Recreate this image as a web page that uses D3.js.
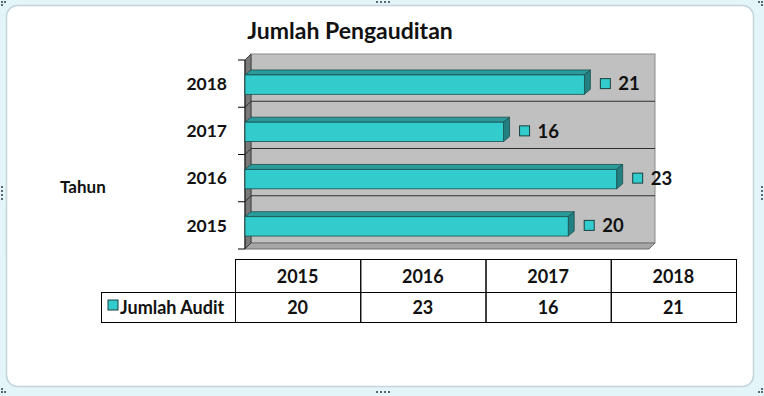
<!DOCTYPE html>
<html>
<head>
<meta charset="utf-8">
<script src="https://cdn.jsdelivr.net/npm/d3@7/dist/d3.min.js"></script>
<style>
  body { margin: 0; background: #fff; }
  svg text { font-family: Lato, "Open Sans", sans-serif; font-weight: bold; fill: #111; }
</style>
</head>
<body>
<div id="chart-area"></div>
<script>
// data
var years = ["2015", "2016", "2017", "2018"];
var audits = [20, 23, 16, 21];
var seriesName = "Jumlah Audit";
var titleText = "Jumlah Pengauditan";
var axisTitle = "Tahun";

var W = 764, H = 396;
var depth = 6;

var svg = d3.select("#chart-area").append("svg")
    .attr("width", W)
    .attr("height", H);

// frame like the office chart object
svg.append("rect").attr("width", W).attr("height", H).attr("fill", "#e4f5f9");
svg.append("rect")
    .attr("x", 6.5).attr("y", 5.5)
    .attr("width", 747).attr("height", 381)
    .attr("rx", 11)
    .attr("fill", "#fff")
    .attr("stroke", "#c3d5d9")
    .attr("stroke-width", 1.5);

// resize handles
function dots(pts) {
    svg.selectAll(null).data(pts).enter().append("rect")
        .attr("x", function (d) { return d[0]; })
        .attr("y", function (d) { return d[1]; })
        .attr("width", 2).attr("height", 2)
        .attr("fill", "#5a6a70");
}
dots([[376,1],[380,1],[384,1],[388,1], [376,391],[380,391],[384,391],[388,391],
      [1,186],[1,190],[1,194],[1,198], [761,186],[761,190],[761,194],[761,198],
      [1,1],[4,1],[1,4], [758,1],[761,1],[761,4],
      [1,388],[1,391],[4,391], [761,388],[758,391],[761,391]]);

// scales
var xScale = d3.scaleLinear().domain([0, 25]).range([245, 649]);
var yScale = d3.scaleBand().domain(years.slice().reverse()).range([60, 249]).padding(0);

var x0 = xScale(0), x1 = xScale.range()[1];
var yTop = yScale.range()[0], yBot = yScale.range()[1];

// back wall
svg.append("rect")
    .attr("x", x0 + depth).attr("y", yTop - depth)
    .attr("width", x1 - x0).attr("height", yBot - yTop)
    .attr("fill", "#c0c0c0")
    .attr("stroke", "#8a8a8a");

// floor
svg.append("polygon")
    .attr("points", [[x0, yBot], [x0 + depth, yBot - depth], [x1 + depth, yBot - depth], [x1, yBot]].join(" "))
    .attr("fill", "#a6a6a6")
    .attr("stroke", "#707070");

// side wall
svg.append("polygon")
    .attr("points", [[x0, yTop], [x0 + depth, yTop - depth], [x0 + depth, yBot - depth], [x0, yBot]].join(" "))
    .attr("fill", "#7a7a7a")
    .attr("stroke", "#404040");

// gridlines + ticks
var bounds = yScale.domain().map(function (d) { return yScale(d); }).concat([yBot]);
svg.selectAll(".grid").data(bounds.slice(1, -1)).enter().append("line")
    .attr("x1", x0 + depth).attr("x2", x1 + depth)
    .attr("y1", function (d) { return d - depth; })
    .attr("y2", function (d) { return d - depth; })
    .attr("stroke", "#303030");
svg.selectAll(".gridside").data(bounds.slice(1, -1)).enter().append("line")
    .attr("x1", x0).attr("x2", x0 + depth)
    .attr("y1", function (d) { return d; })
    .attr("y2", function (d) { return d - depth; })
    .attr("stroke", "#303030");
svg.selectAll(".tick").data(bounds).enter().append("line")
    .attr("x1", x0 - 7).attr("x2", x0)
    .attr("y1", function (d) { return d; })
    .attr("y2", function (d) { return d; })
    .attr("stroke", "#000");
svg.append("line")
    .attr("x1", x0).attr("x2", x0)
    .attr("y1", yTop).attr("y2", yBot)
    .attr("stroke", "#222");

// bars (3D look)
var bh = yScale.bandwidth() * 0.41;
var bdx = 6, bdy = 5;
var rows = years.map(function (y, i) { return { year: y, value: audits[i] }; });

var bars = svg.selectAll(".bar").data(rows).enter().append("g").attr("class", "bar");
function by(d) { return yScale(d.year) + yScale.bandwidth() / 2 - bh / 2 + 1; }

bars.append("polygon")
    .attr("points", function (d) {
        var xe = xScale(d.value), t = by(d);
        return [[x0, t], [x0 + bdx, t - bdy], [xe + bdx, t - bdy], [xe, t]].join(" ");
    })
    .attr("fill", "#2a9a9a")
    .attr("stroke", "#1a4f4f").attr("stroke-width", 0.8);
bars.append("polygon")
    .attr("points", function (d) {
        var xe = xScale(d.value), t = by(d);
        return [[xe, t], [xe + bdx, t - bdy], [xe + bdx, t + bh - bdy], [xe, t + bh]].join(" ");
    })
    .attr("fill", "#237f80")
    .attr("stroke", "#1a4f4f").attr("stroke-width", 0.8);
bars.append("rect")
    .attr("x", x0)
    .attr("y", by)
    .attr("width", function (d) { return xScale(d.value) - x0; })
    .attr("height", bh)
    .attr("fill", "#33cccc")
    .attr("stroke", "#1a4f4f").attr("stroke-width", 0.8);

// data labels with legend key
bars.append("rect")
    .attr("x", function (d) { return xScale(d.value) + 16; })
    .attr("y", function (d) { return yScale(d.year) + yScale.bandwidth() / 2 - 5; })
    .attr("width", 10).attr("height", 10)
    .attr("fill", "#33cccc")
    .attr("stroke", "#1a3f3f");
bars.append("text")
    .attr("x", function (d) { return xScale(d.value) + 34; })
    .attr("y", function (d) { return yScale(d.year) + yScale.bandwidth() / 2; })
    .attr("dy", "0.36em")
    .style("font-size", "18.5px")
    .text(function (d) { return d.value; });

// category labels
svg.selectAll(".cat").data(years).enter().append("text")
    .attr("x", 227)
    .attr("y", function (d) { return yScale(d) + yScale.bandwidth() / 2; })
    .attr("dy", "0.36em")
    .attr("text-anchor", "end")
    .style("font-size", "17.5px")
    .text(function (d) { return d; });

svg.append("text")
    .attr("x", 60).attr("y", 187).attr("dy", "0.36em")
    .style("font-size", "17px")
    .text(axisTitle);

svg.append("text")
    .attr("x", 350).attr("y", 31).attr("dy", "0.36em")
    .attr("text-anchor", "middle")
    .style("font-size", "23px")
    .text(titleText);

// data table
var colScale = d3.scaleBand().domain(years).range([235, 736]);
var t0 = 259, t1 = 292, t2 = 322;

svg.selectAll(".hcell").data(years).enter().append("rect")
    .attr("x", function (d) { return colScale(d) + 0.5; })
    .attr("y", t0 + 0.5)
    .attr("width", colScale.bandwidth())
    .attr("height", t1 - t0)
    .attr("fill", "none").attr("stroke", "#000");
svg.selectAll(".vcell").data(years).enter().append("rect")
    .attr("x", function (d) { return colScale(d) + 0.5; })
    .attr("y", t1 + 0.5)
    .attr("width", colScale.bandwidth())
    .attr("height", t2 - t1)
    .attr("fill", "none").attr("stroke", "#000");
svg.append("rect")
    .attr("x", 101.5).attr("y", t1 + 0.5)
    .attr("width", 235 - 101).attr("height", t2 - t1)
    .attr("fill", "none").attr("stroke", "#000");

svg.selectAll(".htext").data(years).enter().append("text")
    .attr("x", function (d) { return colScale(d) + colScale.bandwidth() / 2; })
    .attr("y", (t0 + t1) / 2 + 1).attr("dy", "0.36em")
    .attr("text-anchor", "middle")
    .style("font-size", "18px")
    .text(function (d) { return d; });
svg.selectAll(".vtext").data(rows).enter().append("text")
    .attr("x", function (d) { return colScale(d.year) + colScale.bandwidth() / 2; })
    .attr("y", (t1 + t2) / 2 + 1).attr("dy", "0.36em")
    .attr("text-anchor", "middle")
    .style("font-size", "18px")
    .text(function (d) { return d.value; });

svg.append("rect")
    .attr("x", 108).attr("y", 300)
    .attr("width", 10).attr("height", 10)
    .attr("fill", "#33cccc").attr("stroke", "#1a3f3f");
svg.append("text")
    .attr("x", 120).attr("y", (t1 + t2) / 2 + 1).attr("dy", "0.36em")
    .style("font-size", "18px")
    .text(seriesName);
</script>
</body>
</html>
